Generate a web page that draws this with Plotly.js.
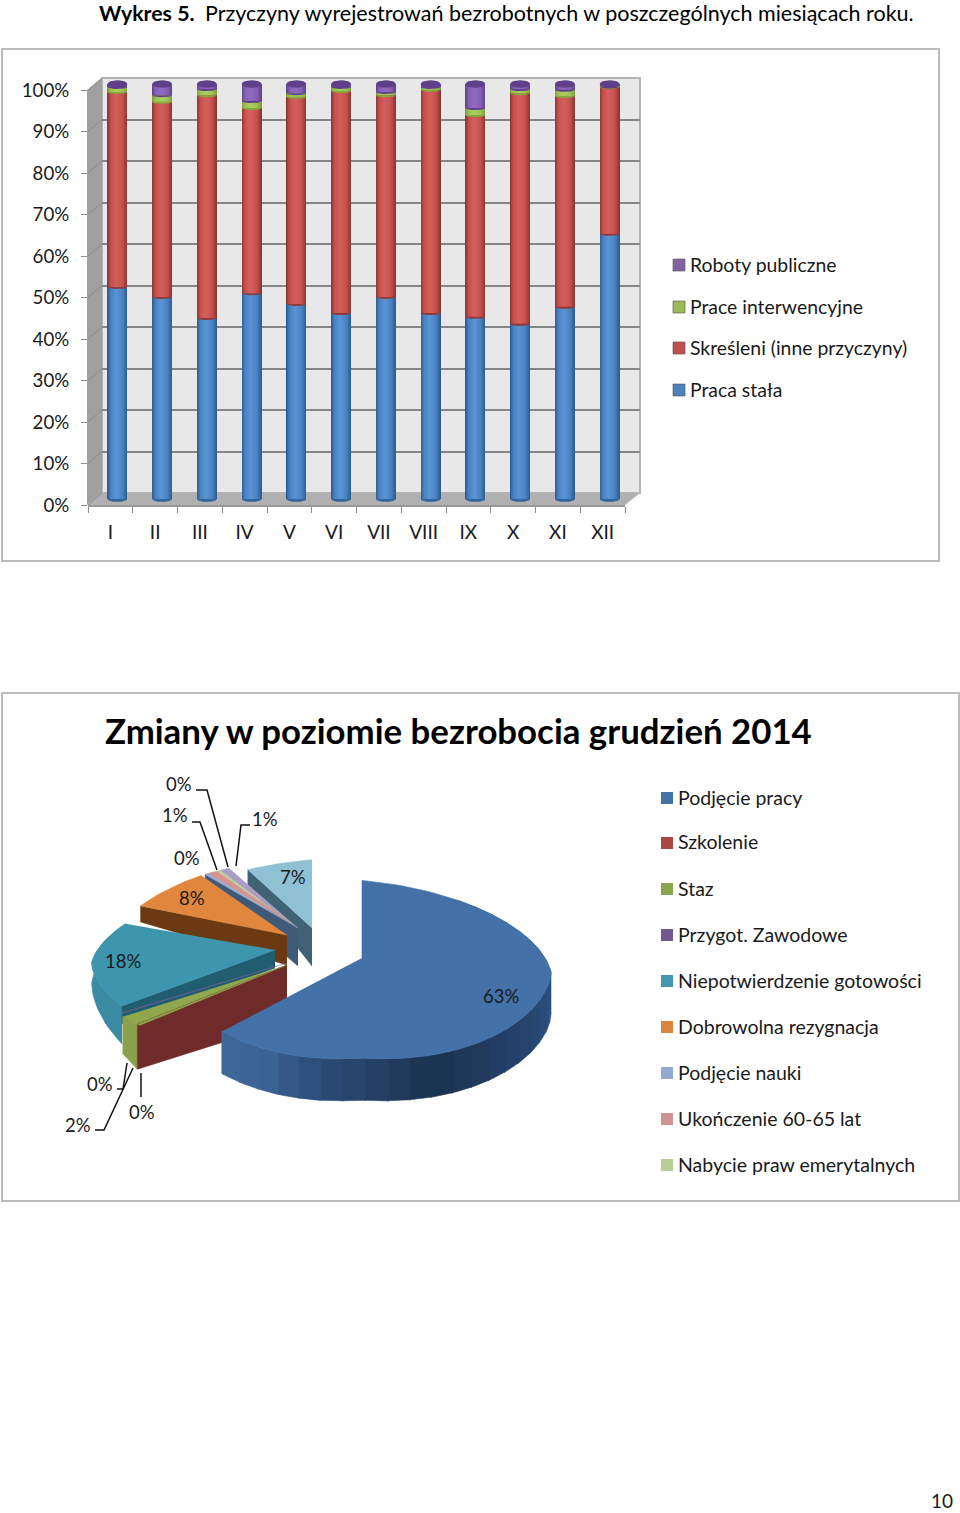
<!DOCTYPE html>
<html><head><meta charset="utf-8">
<script src="https://cdn.plot.ly/plotly-3.0.0.min.js"></script>
<style>html,body{margin:0;padding:0;background:#fff}#c{width:960px;height:1513px}</style>
</head><body><div id="c"></div>
<script>
// ---------- DATA ----------
const months = ['I','II','III','IV','V','VI','VII','VIII','IX','X','XI','XII'];
const pracaStala   = [51.1,48.7,43.6,49.6,47.0,44.8,48.7,44.8,43.9,42.2,46.3,63.9];
const skresleni    = [47.0,47.0,53.7,44.6,49.9,53.5,48.6,53.8,48.6,55.6,50.8,35.4];
const interwencyjne= [1.2,1.6,1.5,1.7,0.9,1.0,0.8,0.7,1.7,1.0,1.5,0.1];
const publiczne    = [0.7,2.7,1.2,4.1,2.2,0.7,1.9,0.7,5.8,1.2,1.4,0.6];
const barSeries = ['Praca stała','Skreśleni (inne przyczyny)','Prace interwencyjne','Roboty publiczne'];
const pieNames = ['Podjęcie pracy','Szkolenie','Staz','Przygot. Zawodowe','Niepotwierdzenie gotowości','Dobrowolna rezygnacja','Podjęcie nauki','Ukończenie 60-65 lat','Nabycie praw emerytalnych'];
const pieSliceNames = pieNames.concat(['Inne 1','Inne 2']);
const pieValues = [63.3,0.3,1.9,0.2,17.6,7.8,0.3,0.9,0.3,0.9,6.5];
const chartTitle = 'Zmiany w poziomie bezrobocia grudzień 2014';

// ---------- STYLE / LAYOUT CONSTANTS ----------
const W=960,H=1513,FONT='Lato, Carlito, sans-serif',TXT='#1a1a1a';
const px=x=>x/W, py=y=>1-y/H;
const barCols=[['#2b5a8e','#4a83c4','#5a94d4'],['#853635','#c9504d','#d2605c'],['#7c9a3c','#9fc354','#aacd60'],['#5c4384','#8560b4','#8f6cc0']];
const capCols=['#33659c','#8e3a38','#86a640','#5f3f88'];
const legCols=['#4f81bd','#c0504d','#9bbb59','#8064a2'];
const pieLegCols=['#4572a7','#aa4643','#89a54e','#71588f','#4198af','#db843d','#93a9cf','#d19392','#b9cd96'];
const sl=[ // per-slice geometry and colour of the exploded 3D pie
 {ax:362,ay:958,sx:1,sy:1,top:'#4371a8'},
 {ax:287,ay:965,sx:1.05,sy:.82,top:'#8fa84d',cut:'#6f2a2a',dA:57,dR:45,cutEnd:true},
 {ax:287,ay:965,sx:1.05,sy:.82,top:'#8fa84d',rim:'#8ba24a',dRim:45,dRimEnd:37},
 {ax:287,ay:963,sx:1.05,sy:.8,top:'#7d5f9e'},
 {ax:275,ay:950,sx:.97,sy:.9,top:'#3e96ae',rim:'#3b8ba3',dRim:38,dRimEnd:4,cut:'#215d70',dA:18,dR:18},
 {ax:287,ay:935,sx:.95,sy:1,top:'#e0873d',cut:'#6b3a12',dA:30,dR:16},
 {ax:298,ay:928,sx:1.03,sy:.9,top:'#93a9cf',cut:'#3e5a78',dA:38,dR:12},
 {ax:298,ay:928,sx:1.03,sy:.9,top:'#d59392'},
 {ax:298,ay:928,sx:1.03,sy:.9,top:'#bcd096'},
 {ax:298,ay:928,sx:1.03,sy:.9,top:'#a99dc5'},
 {ax:312,ay:928,sx:.96,sy:.88,top:'#90c0d3',cut:'#3f6375',dA:38,dR:15}
];
const drawOrder=[10,9,8,7,6,5,4,3,2,1,0];
const pieLabelPos=[[501,996],[142,1112],[78,1125],[100,1084],[123,961],[192,898],[187,858],[175,815],[179,784],[265,819],[293,877]];
const leaders=[[[196,790],[207,790],[228,867]],[[192,822],[200,822],[217,870]],[[250,825],[241,825],[236,866]],
 [[117,1089],[123,1089],[127,1063]],[[95,1130],[104,1130],[133,1068]],[[141,1073],[141,1097]]];

// ---------- TRACES ----------
const traces=[];
const pos=months.map((_,i)=>i);
traces.push({type:'scatter',x:[0,1],y:[0,100],mode:'none',xaxis:'x',yaxis:'y',hoverinfo:'skip',showlegend:false});
[pracaStala,skresleni,interwencyjne,publiczne].forEach((v,k)=>{
  traces.push({type:'bar',name:barSeries[k],x:pos,y:v,xaxis:'x2',yaxis:'y2',marker:{color:legCols[k],line:{width:0}},showlegend:false});
});
const halfW=0.222,steps=24;
function cap(i,level,ry,col,from,to){
  const xs=[],ys=[];
  for(let a=0;a<=steps;a++){const t=from+(to-from)*a/steps;xs.push(i+halfW*Math.cos(t));ys.push(level+ry*Math.sin(t));}
  traces.push({type:'scatter',x:xs,y:ys,xaxis:'x2',yaxis:'y2',mode:'lines',fill:'toself',fillcolor:col,line:{width:0,color:col},hoverinfo:'skip',showlegend:false});
}
pos.forEach(i=>{
  cap(i,0,0.7,capCols[0],Math.PI,2*Math.PI);
  let c=pracaStala[i];
  cap(i,c,0.5,capCols[1],Math.PI,2*Math.PI);
  c+=skresleni[i]; cap(i,c,0.5,capCols[2],Math.PI,2*Math.PI);
  c+=interwencyjne[i]; cap(i,c,0.5,capCols[3],Math.PI,2*Math.PI);
  cap(i,100,0.9,capCols[3],0,2*Math.PI);
});
traces.push({type:'scatter',x:months,y:months.map(()=>0),mode:'none',xaxis:'x3',yaxis:'y3',hoverinfo:'skip',showlegend:false});

const total=pieValues.reduce((a,b)=>a+b,0);
const bounds=[0];pieValues.forEach(v=>bounds.push(bounds[bounds.length-1]+v/total*2*Math.PI));
function rimPt(s,t){
  const c=Math.cos(t),sn=Math.sin(t),f=1-0.12*Math.max(c,0);
  const dy=(c>0?88*f*c:-100*Math.pow(-c,1.15))*s.sy;
  return [s.ax+189*f*sn*s.sx, s.ay-dy+14*Math.abs(sn)*s.sy];
}
function poly(pts,col,name){
  traces.push({type:'scatter',name:name,x:pts.map(p=>p[0]),y:pts.map(p=>p[1]),xaxis:'x4',yaxis:'y4',mode:'lines',fill:'toself',fillcolor:col,line:{width:0.6,color:col},hoverinfo:'skip',showlegend:false});
}
function arc(s,t0,t1){const n=Math.max(2,Math.ceil(Math.abs(t1-t0)/0.04)),o=[];for(let a=0;a<=n;a++)o.push(rimPt(s,t0+(t1-t0)*a/n));return o;}
function mix(a,b,t){const h=c=>[1,3,5].map(i=>parseInt(c.substr(i,2),16));const A=h(a),B=h(b);return 'rgb('+A.map((v,i)=>Math.round(v+(B[i]-v)*t)).join(',')+')';}
const blueWall=[[0,'#2f5685'],[1.6,'#2c5082'],[2.7,'#1b3250'],[3.3,'#2a4c78'],[3.6,'#3a6292'],[4.0,'#3f6a9b']];
function wallCol(t){for(let i=0;i<blueWall.length-1;i++){if(t<=blueWall[i+1][0]){return mix(blueWall[i][1],blueWall[i+1][1],(t-blueWall[i][0])/(blueWall[i+1][0]-blueWall[i][0]));}}return blueWall[blueWall.length-1][1];}
drawOrder.forEach(i=>{
  const s=sl[i],t0=bounds[i],t1=bounds[i+1],nm=pieSliceNames[i];
  if(i===0){
    const seg=0.12;
    for(let t=0.6;t<t1;t+=seg){
      const e=Math.min(t+seg+0.01,t1),top=arc(s,t,e);
      const bot=top.map(p=>[p[0],p[1]+42]).reverse();
      poly(top.concat(bot),wallCol(t),nm+' bok');
    }
  }
  if(s.rim){const top=arc(s,t0,t1),n=top.length-1;poly(top.concat(top.map((p,j)=>[p[0],p[1]+s.dRim+(s.dRimEnd-s.dRim)*j/n]).reverse()),s.rim,nm+' bok');}
  if(s.cut){const r=rimPt(s,s.cutEnd?t1:t0);poly([[s.ax,s.ay],r,[r[0],r[1]+s.dR],[s.ax,s.ay+s.dA]],s.cut,nm+' ściana');}
  poly([[s.ax,s.ay]].concat(arc(s,t0,t1)),s.top,nm);
});
leaders.forEach((l,i)=>traces.push({type:'scatter',x:l.map(p=>p[0]),y:l.map(p=>p[1]),xaxis:'x4',yaxis:'y4',mode:'lines',line:{color:'#111',width:1.5},hoverinfo:'skip',showlegend:false}));

// ---------- LAYOUT ----------
const ann=[],shapes=[];
function text(x,y,t,size,anchor,bold,col){ann.push({xref:'paper',yref:'paper',x:px(x),y:py(y),text:bold?'<b>'+t+'</b>':t,showarrow:false,xanchor:anchor,yanchor:'middle',font:{family:FONT,size:size,color:col||TXT}});}
function rect(x0,y0,x1,y1,fill,line,lw,layer){shapes.push({type:'rect',xref:'paper',yref:'paper',x0:px(x0),x1:px(x1),y0:py(y0),y1:py(y1),fillcolor:fill,line:{color:line,width:lw},layer:layer||'below'});}
function path(pts,fill,layer){shapes.push({type:'path',xref:'paper',yref:'paper',path:'M'+pts.map(p=>px(p[0])+' '+py(p[1])).join('L')+'Z',fillcolor:fill,line:{width:0},layer:layer||'below'});}
function seg(a,b,col,w){shapes.push({type:'line',xref:'paper',yref:'paper',x0:px(a[0]),y0:py(a[1]),x1:px(b[0]),y1:py(b[1]),line:{color:col,width:w},layer:'below'});}

rect(2,49,939,561,'#fff','#bcbcbc',2);
rect(2,693,959,1201,'#fff','#bcbcbc',2);
rect(102,78,640,493,'#e8e8e8','#b4b4b4',2);
path([[87,90],[102,78],[102,493],[87,505]],'#a0a0a0');
path([[102,493],[640,493],[625,505],[87,505]],'#b0b0b0');
for(let k=0;k<=10;k++){const y=90+41.5*k;seg([88,y],[102,y-12],'#8c8c8c',1);}

text(97,13,'Wykres 5.',21.3,'left',true,'#000');
text(203,13,'Przyczyny wyrejestrowań bezrobotnych w poszczególnych miesiącach roku.',21.5,'left',false,'#000');
text(942,1500.5,'10',19,'center',false);
text(458,730,chartTitle,34.8,'center',true,'#000');
const legRows=[265,307,348,390],legOrder=[3,2,1,0];
legOrder.forEach((k,r)=>{rect(673,legRows[r]-6,685,legRows[r]+6,legCols[k],'#555',0.6,'above');text(688,legRows[r]-0.5,barSeries[k],19.4,'left');});
pieNames.forEach((n,i)=>{const y=798+46*i-(i>0?1:0);rect(661,y-6,673,y+6,pieLegCols[i],pieLegCols[i],0,'above');text(676,y-1,n,19.5,'left');});
pieValues.forEach((v,i)=>text(pieLabelPos[i][0],pieLabelPos[i][1],Math.round(v)+'%',18.5,'center'));

const hidden={visible:false,fixedrange:true};
const layout={
  width:W,height:H,margin:{l:0,r:0,t:0,b:0},paper_bgcolor:'#fff',plot_bgcolor:'rgba(0,0,0,0)',
  font:{family:FONT,color:TXT},showlegend:false,barmode:'stack',bargap:0.55,
  xaxis:Object.assign({},hidden,{domain:[px(102),px(640)],range:[0,1]}),
  yaxis:{domain:[py(493),py(78)],range:[0,100],dtick:10,showgrid:true,gridcolor:'#858585',gridwidth:2,zeroline:false,showticklabels:false,ticks:'',showline:false,anchor:'x',fixedrange:true},
  xaxis2:Object.assign({},hidden,{domain:[px(95),px(632)],range:[-0.5,11.5]}),
  // range runs past 0–100 so the cylinder ends are not clipped: 4.15 px per unit
  yaxis2:Object.assign({},hidden,{domain:[py(499+4.15*2),py(84-4.15*2)],range:[-2,102],anchor:'x2'}),
  xaxis3:{domain:[px(88),px(625)],type:'category',categoryorder:'array',categoryarray:months,range:[-0.5,11.5],anchor:'y3',ticks:'outside',ticklen:6,tickcolor:'#8c8c8c',tickson:'boundaries',showline:true,linecolor:'#9a9a9a',linewidth:1.5,showgrid:false,zeroline:false,tickfont:{family:FONT,size:19,color:TXT},ticklabelstandoff:10,fixedrange:true},
  yaxis3:{domain:[py(505),py(90)],range:[0,100],dtick:10,ticksuffix:'%',anchor:'x3',ticks:'outside',ticklen:6,tickcolor:'#8c8c8c',showgrid:false,zeroline:false,showline:false,tickfont:{family:FONT,size:18.7,color:TXT},ticklabelstandoff:8,fixedrange:true},
  xaxis4:Object.assign({},hidden,{domain:[0,1],range:[0,W]}),
  yaxis4:Object.assign({},hidden,{domain:[0,1],range:[H,0],anchor:'x4'}),
  annotations:ann,shapes:shapes
};
Plotly.newPlot('c',traces,layout,{displayModeBar:false,staticPlot:true}).then(gd=>{
  const NS='http://www.w3.org/2000/svg',svg=gd.querySelector('svg.main-svg'),defs=document.createElementNS(NS,'defs');
  barCols.forEach((c,k)=>{
    const g=document.createElementNS(NS,'linearGradient');g.setAttribute('id','cyl'+k);
    [[0,c[0]],[.18,c[1]],[.45,c[2]],[.75,c[1]],[1,c[0]]].forEach(st=>{const s=document.createElementNS(NS,'stop');s.setAttribute('offset',st[0]);s.setAttribute('stop-color',st[1]);g.appendChild(s);});
    defs.appendChild(g);
  });
  svg.insertBefore(defs,svg.firstChild);
  gd.querySelectorAll('.barlayer .trace').forEach((tr,k)=>tr.querySelectorAll('.point path').forEach(p=>{p.style.fill='url(#cyl'+k+')';}));
});
</script></body></html>
